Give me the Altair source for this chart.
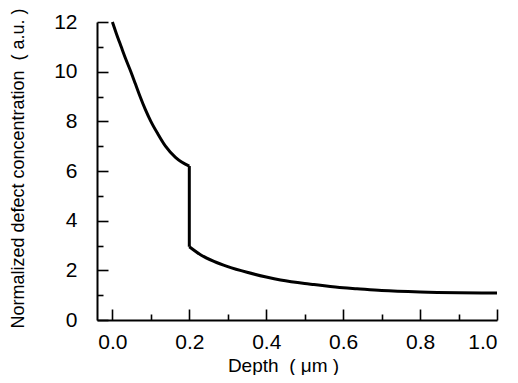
import altair as alt
import pandas as pd

# Near-surface region (0 - 0.2 um)
x1 = [0.0, 0.01, 0.023, 0.035, 0.048, 0.06, 0.072, 0.085, 0.1, 0.118, 0.138, 0.164, 0.18, 0.2]
y1 = [12.0, 11.55, 11.0, 10.5, 10.0, 9.5, 9.0, 8.5, 8.0, 7.5, 7.0, 6.55, 6.36, 6.2]
# Bulk region (0.2 - 1.0 um)
x2 = [0.2, 0.229, 0.264, 0.3, 0.35, 0.4, 0.437, 0.5, 0.524, 0.6, 0.636, 0.7, 0.8, 0.9, 1.0]
y2 = [2.95, 2.63, 2.36, 2.15, 1.92, 1.73, 1.61, 1.47, 1.43, 1.3, 1.26, 1.19, 1.13, 1.1, 1.09]

x_major = [0.0, 0.2, 0.4, 0.6, 0.8, 1.0]
x_ticks = [0.0, 0.1, 0.2, 0.3, 0.4, 0.5, 0.6, 0.7, 0.8, 0.9, 1.0]
y_major = [0, 2, 4, 6, 8, 10, 12]
y_ticks = list(range(0, 13))

rows = []
for i, (a, b) in enumerate(zip(x1, y1)):
    rows.append({"depth": a, "conc": b, "seg": "surface", "order": i})
# step at the interface
rows.append({"depth": x1[-1], "conc": y1[-1], "seg": "step", "order": 0})
rows.append({"depth": x2[0], "conc": y2[0], "seg": "step", "order": 1})
for i, (a, b) in enumerate(zip(x2, y2)):
    rows.append({"depth": a, "conc": b, "seg": "bulk", "order": i})
df = pd.DataFrame(rows)

W, H = 400, 298
FONT = "Liberation Sans"
NB = "\u00a0"

xscale = alt.Scale(domain=[-0.04, 1.0], nice=False, zero=False)
yscale = alt.Scale(domain=[0, 12], nice=False)

main = alt.Chart(df).mark_line(color="black", strokeWidth=3, interpolate="monotone",
                               strokeJoin="miter").encode(
    x=alt.X("depth:Q", scale=xscale,
            axis=alt.Axis(orient="bottom", values=x_major, format=".1f", ticks=False,
                          domainColor="black", domainWidth=2, labelFont=FONT,
                          labelFontSize=21, labelColor="black", labelPadding=11,
                          title=f"Depth{NB}{NB}({NB}μm{NB})", titleFont=FONT, titleFontSize=19,
                          titleFontWeight="normal", titleColor="black",
                          titleX=186, titleY=36, grid=False)),
    y=alt.Y("conc:Q", scale=yscale,
            axis=alt.Axis(orient="left", values=y_major, ticks=False,
                          domainColor="black", domainWidth=2, labelFont=FONT,
                          labelFontSize=21, labelColor="black", labelPadding=20,
                          title=f"Normalized defect concentration{NB}{NB}({NB}a.u.{NB})",
                          titleFont=FONT, titleFontSize=18, titleFontWeight="normal",
                          titleColor="black", titleX=-70, titleY=146, grid=False)),
    detail="seg:N",
    order="order:Q",
)

ticks = alt.Chart(df).mark_line(opacity=0).encode(
    x=alt.X("depth:Q", scale=xscale,
            axis=alt.Axis(orient="top", offset=-H, values=x_ticks, labels=False,
                          domain=False, title=None, grid=False, tickColor="black",
                          tickWidth=1.6,
                          tickSize={"condition": {"test": "round(datum.value*10) % 2 === 1", "value": 6}, "value": 11})),
    y=alt.Y("conc:Q", scale=yscale,
            axis=alt.Axis(orient="right", offset=-W, values=y_ticks, labels=False,
                          domain=False, title=None, grid=False, tickColor="black",
                          tickWidth=1.6,
                          tickSize={"condition": {"test": "datum.value % 2 === 1", "value": 6}, "value": 11})),
    detail="seg:N",
    order="order:Q",
)

chart = alt.layer(main, ticks).resolve_axis(x="independent", y="independent").properties(
    width=W, height=H,
    autosize=alt.AutoSizeParams(type="none"),
    padding={"left": 89, "top": 14, "right": 13, "bottom": 55},
    background="white",
).configure_view(stroke=None)

chart.save("out.html", embed_options={"renderer": "svg", "actions": False})
